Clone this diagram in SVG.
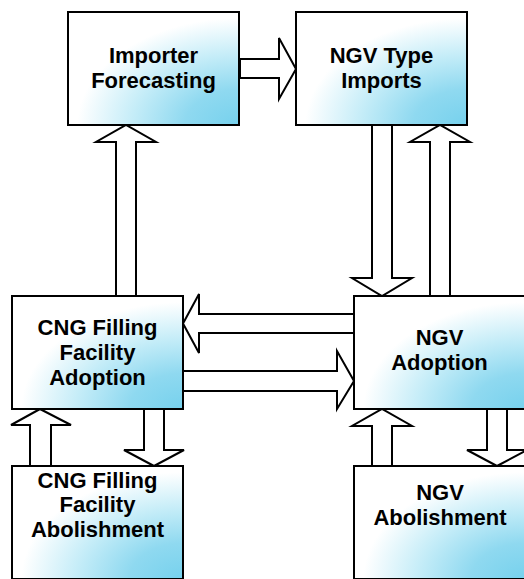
<svg xmlns="http://www.w3.org/2000/svg" width="524" height="579" viewBox="0 0 524 579">
<defs>
<radialGradient id="g" cx="1" cy="1" r="1.05" fx="1" fy="1">
<stop offset="0" stop-color="#76d1ed"/>
<stop offset="0.3" stop-color="#8fd9f0"/>
<stop offset="0.6" stop-color="#c6edf8"/>
<stop offset="0.9" stop-color="#ffffff"/>
</radialGradient>
<style>
.box{fill:url(#g);stroke:#000;stroke-width:2}
.arr{fill:#fff;stroke:#000;stroke-width:2;stroke-linejoin:miter}
.t{font-family:"Liberation Sans",Arial,sans-serif;font-weight:bold;font-size:22px;text-anchor:middle;fill:#000}
</style>
</defs>
<rect width="524" height="579" fill="#fff"/>
<g id="connectors">
<polygon class="arr" points="240,59 279,59 279,38 296,69 279,99 279,78 240,78"/>
<polygon class="arr" points="116,296 116,142 96,142 126,125 156,142 136,142 136,296"/>
<polygon class="arr" points="372,125 392,125 392,278 412,278 382,296 352,278 372,278"/>
<polygon class="arr" points="430,296 430,142 410,142 440,125 470,142 450,142 450,296"/>
<polygon class="arr" points="354,314 199,314 199,294 183,323.5 199,353 199,333 354,333"/>
<polygon class="arr" points="183,371 337,371 337,351 354,381 337,409 337,391 183,391"/>
<polygon class="arr" points="30,466 30,425 11,425 40,409 71,425 51,425 51,466"/>
<polygon class="arr" points="144,409 164,409 164,450 184,450 154,466 124,450 144,450"/>
<polygon class="arr" points="372,466 372,426 352,426 382,409 412,426 392,426 392,466"/>
<polygon class="arr" points="487,409 507,409 507,450 527,450 497,466 467,450 487,450"/>
</g>
<g id="importer-forecasting">
<rect class="box" x="68" y="12" width="171" height="113"/>
<text class="t" x="153.5" y="62.5">Importer</text>
<text class="t" x="153.5" y="87.5">Forecasting</text>
</g>
<g id="ngv-type-imports">
<rect class="box" x="296" y="12" width="171" height="113"/>
<text class="t" x="381.5" y="62.5">NGV Type</text>
<text class="t" x="381.5" y="87.5">Imports</text>
</g>
<g id="cng-adoption">
<rect class="box" x="12" y="296" width="171" height="113"/>
<text class="t" x="97.5" y="334.5">CNG Filling</text>
<text class="t" x="97.5" y="359.5">Facility</text>
<text class="t" x="97.5" y="384.5">Adoption</text>
</g>
<g id="ngv-adoption">
<rect class="box" x="354" y="296" width="171" height="113"/>
<text class="t" x="439.5" y="345">NGV</text>
<text class="t" x="439.5" y="370">Adoption</text>
</g>
<g id="cng-abolishment">
<rect class="box" x="12" y="466" width="171" height="113"/>
<text class="t" x="97.5" y="487.5">CNG Filling</text>
<text class="t" x="97.5" y="512">Facility</text>
<text class="t" x="97.5" y="537">Abolishment</text>
</g>
<g id="ngv-abolishment">
<rect class="box" x="354" y="466" width="171" height="113"/>
<text class="t" x="440" y="499.5">NGV</text>
<text class="t" x="440" y="524.5">Abolishment</text>
</g>
</svg>
